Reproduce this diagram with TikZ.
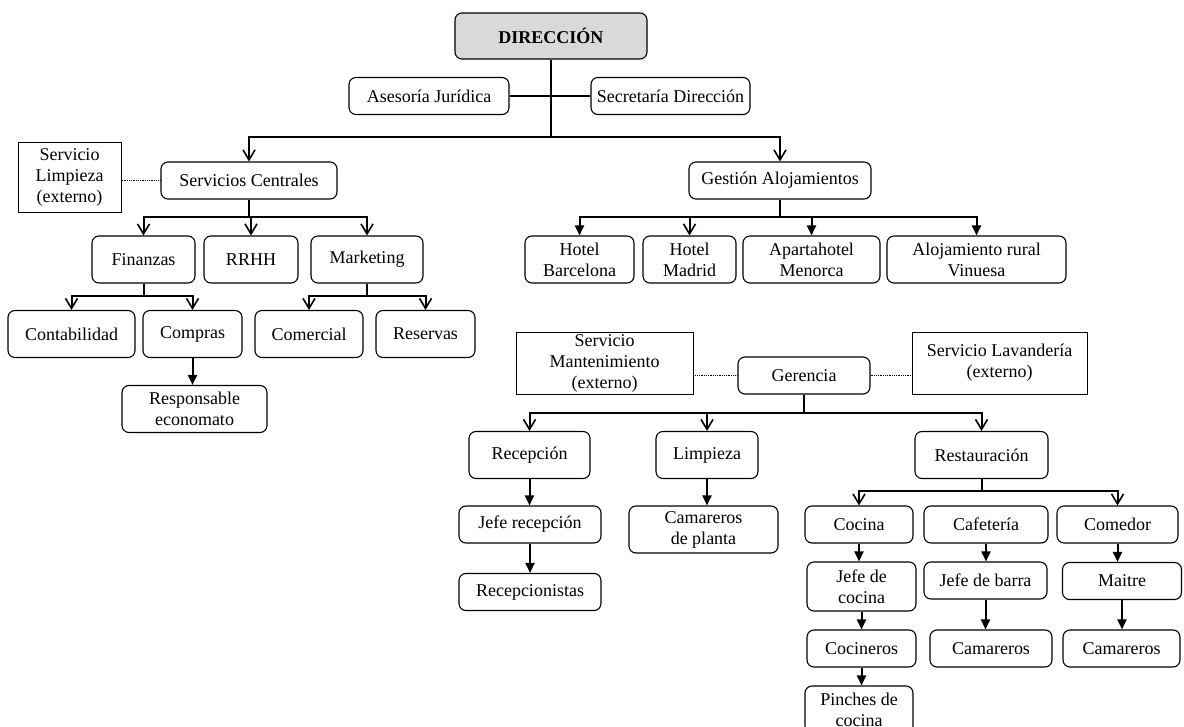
\documentclass[tikz,border=0pt]{standalone}
\usepackage{fontspec}
\setmainfont{Liberation Serif}
\usetikzlibrary{arrows.meta}

\begin{document}
\begin{tikzpicture}[x=1pt,y=-1pt,
  caja/.style={rectangle,rounded corners=7pt,draw,line width=1.1pt,align=center,inner sep=1pt,font=\fontsize{18}{21}\selectfont},
  externo/.style={rectangle,draw,line width=0.9pt,align=center,inner sep=1pt,font=\fontsize{18}{21}\selectfont},
  una/.style={minimum height=37pt},
  dos/.style={minimum height=47pt},
  rama/.style={line width=2pt},
  abierta/.style={rama,-{Straight Barb[length=10pt,width=12pt,line width=1.6pt]}},
  llena/.style={rama,-{Triangle[length=10pt,width=9pt]}},
  punteada/.style={densely dotted,line width=0.8pt}]
\useasboundingbox (0,0) rectangle (1184,727);

% direccion
\node (DIR) at (551,36) [caja,fill=gray!30,minimum width=192,minimum height=46] {\textbf{DIRECCIÓN}};
\node (AJ) at (429,96) [caja,una,minimum width=160] {Asesoría Jurídica};
\node (SD) at (670.5,96) [caja,una,minimum width=159] {Secretaría Dirección};
\coordinate (bdir) at (551,137);
\draw [rama] (DIR) -- (bdir);
\draw [rama] (AJ) -- (SD);

% servicios centrales
\node (SL) at (69.5,177) [externo,minimum width=103,minimum height=70] {Servicio\\Limpieza\\(externo)};
\node (SC) at (249,180.5) [caja,una,minimum width=176] {Servicios Centrales};
\node (FIN) at (143.5,259.5) [caja,dos,minimum width=103] {Finanzas};
\node (RRHH) at (251,259.5) [caja,dos,minimum width=94] {RRHH};
\node (MKT) at (367,259.5) [caja,dos,minimum width=112] {Marketing};
\node (CONT) at (71.5,334) [caja,dos,minimum width=127] {Contabilidad};
\node (COMP) at (192.5,334) [caja,dos,minimum width=99] {Compras};
\node (COM) at (309,334) [caja,dos,minimum width=108] {Comercial};
\node (RES) at (425.5,334) [caja,dos,minimum width=99] {Reservas};
\node (RE) at (194.5,409) [caja,dos,minimum width=145] {Responsable\\economato};

% gestion alojamientos
\node (GA) at (780,180.5) [caja,una,minimum width=182] {Gestión Alojamientos};
\node (HB) at (579.5,259.5) [caja,dos,minimum width=109] {Hotel\\Barcelona};
\node (HM) at (689.5,259.5) [caja,dos,minimum width=93] {Hotel\\Madrid};
\node (AM) at (811.5,259.5) [caja,dos,minimum width=137] {Apartahotel\\Menorca};
\node (AR) at (976.5,259.5) [caja,dos,minimum width=179] {Alojamiento rural\\Vinuesa};

% gerencia
\node (SM) at (604.5,363) [externo,minimum width=177,minimum height=62] {Servicio\\Mantenimiento\\(externo)};
\node (GER) at (804,375.5) [caja,una,minimum width=132] {Gerencia};
\node (SLAV) at (999.5,363) [externo,minimum width=175,minimum height=62] {Servicio Lavandería\\(externo)};
\node (REC) at (529.5,455) [caja,dos,minimum width=121] {Recepción};
\node (LIM) at (707,455) [caja,dos,minimum width=102] {Limpieza};
\node (REST) at (981.5,455) [caja,dos,minimum width=133] {Restauración};
\node (JR) at (530,524.5) [caja,una,minimum width=142] {Jefe recepción};
\node (RC) at (530,592) [caja,una,minimum width=142] {Recepcionistas};
\node (CP) at (703.5,529.5) [caja,dos,minimum width=149] {Camareros\\de planta};

% restauracion
\node (COC) at (859,524.5) [caja,una,minimum width=108] {Cocina};
\node (CAF) at (986,524.5) [caja,una,minimum width=124] {Cafetería};
\node (COMD) at (1117.5,524.5) [caja,una,minimum width=121] {Comedor};
\node (JC) at (861.5,586.5) [caja,minimum width=109,minimum height=49] {Jefe de\\cocina};
\node (JB) at (985.5,580.5) [caja,una,minimum width=123] {Jefe de barra};
\node (MAI) at (1122,581) [caja,una,minimum width=119] {Maitre};
\node (COCI) at (861.5,648.5) [caja,una,minimum width=109] {Cocineros};
\node (CAM1) at (991,648.5) [caja,una,minimum width=122] {Camareros};
\node (CAM2) at (1121.5,648.5) [caja,una,minimum width=117] {Camareros};
\node (PC) at (859,709.5) [caja,dos,minimum width=108] {Pinches de\\cocina};

% lineas
\draw [abierta] (bdir) -| (SC.north);
\draw [abierta] (bdir) -| (GA.north);

\coordinate (bsc) at (SC.south |- 0,217);
\draw [rama] (SC) -- (bsc);
\draw [abierta] (bsc) -| (FIN.north);
\draw [abierta] (bsc) -| (RRHH.north);
\draw [abierta] (bsc) -| (MKT.north);
\draw [punteada] (SC.west) -- (SC.west -| SL.east);

\coordinate (bfin) at (FIN.south |- 0,296);
\draw [rama] (FIN) -- (bfin);
\draw [abierta] (bfin) -| (CONT.north);
\draw [abierta] (bfin) -| (COMP.north);
\coordinate (bmkt) at (MKT.south |- 0,296);
\draw [rama] (MKT) -- (bmkt);
\draw [abierta] (bmkt) -| (COM.north);
\draw [abierta] (bmkt) -| (RES.north);
\draw [llena] (COMP.south) -- (COMP.south |- RE.north);

\coordinate (bga) at (GA.south |- 0,217);
\draw [rama] (GA) -- (bga);
\draw [llena] (bga) -| (HB.north);
\draw [abierta] (bga) -| (HM.north);
\draw [llena] (bga) -| (AM.north);
\draw [llena] (bga) -| (AR.north);

\draw [punteada] (GER.west) -- (GER.west -| SM.east);
\draw [punteada] (GER.east) -- (GER.east -| SLAV.west);
\coordinate (bger) at (GER.south |- 0,413);
\draw [rama] (GER) -- (bger);
\draw [abierta] (bger) -| (REC.north);
\draw [abierta] (bger) -| (LIM.north);
\draw [abierta] (bger) -| (REST.north);
\draw [llena] (REC.south) -- (REC.south |- JR.north);
\draw [llena] (JR.south) -- (JR.south |- RC.north);
\draw [llena] (LIM.south) -- (LIM.south |- CP.north);

\coordinate (brest) at (REST.south |- 0,491);
\draw [rama] (REST) -- (brest);
\draw [abierta] (brest) -| (COC.north);
\draw [abierta] (brest) -| (COMD.north);
\draw [llena] (COC.south) -- (COC.south |- JC.north);
\draw [llena] (JC.south) -- (JC.south |- COCI.north);
\draw [llena] (COCI.south) -- (COCI.south |- PC.north);
\draw [llena] (CAF.south) -- (CAF.south |- JB.north);
\draw [llena] (JB.south) -- (JB.south |- CAM1.north);
\draw [llena] (COMD.south) -- (COMD.south |- MAI.north);
\draw [llena] (MAI.south) -- (MAI.south |- CAM2.north);
\end{tikzpicture}
\end{document}
